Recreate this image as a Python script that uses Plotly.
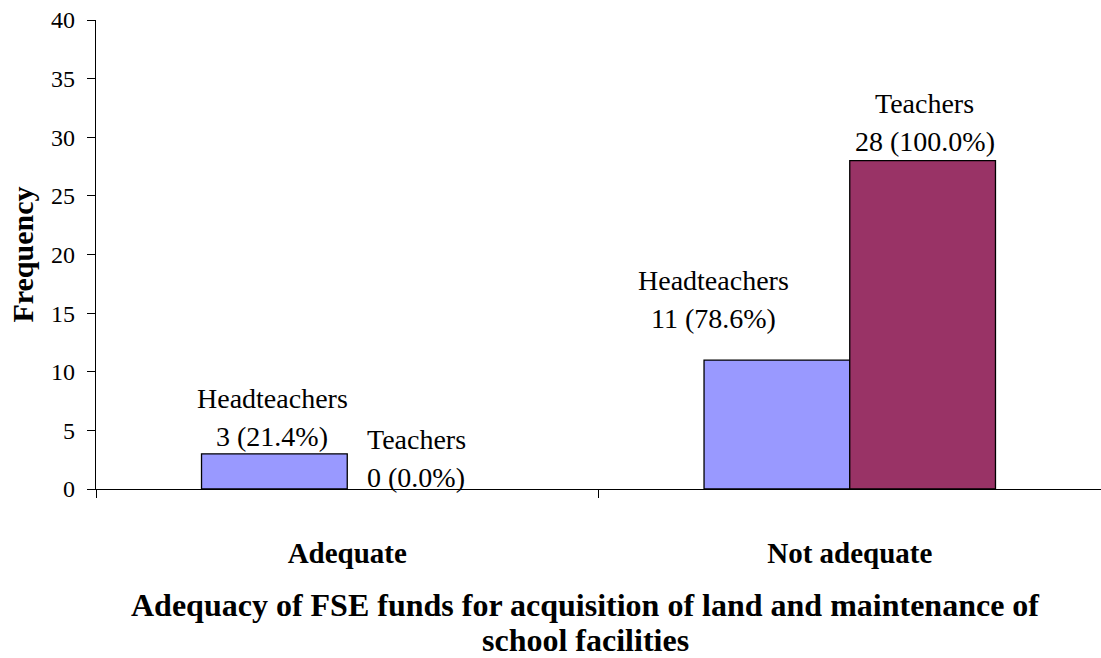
import plotly.graph_objects as go

categories = ["Adequate", "Not adequate"]
series_names = ["Headteachers", "Teachers"]
headteachers = [3, 11]
teachers = [0, 28]
headteachers_pct = [21.4, 78.6]
teachers_pct = [0.0, 100.0]
y_ticks = [0, 5, 10, 15, 20, 25, 30, 35, 40]
x_title_lines = ["Adequacy of FSE funds for acquisition of land and maintenance of",
                 "school facilities"]

colors = ["#9999FF", "#993366"]
FONT = "'Liberation Serif', 'Times New Roman', Times, serif"
BARGAP = 0.42

fig = go.Figure()
for name, vals, col in zip(series_names, [headteachers, teachers], colors):
    fig.add_trace(go.Bar(
        x=categories, y=vals, name=name,
        marker=dict(color=col, line=dict(color="black", width=[1.3 if v > 0 else 0 for v in vals])),
        showlegend=False,
    ))

# data labels (manually placed like Excel)
label_style = {  # (series, category index): (xshift px, yshift px of value line)
    (0, 0): (-2, 17), (1, 0): (-4, 12),
    (0, 1): (-63, 42), (1, 1): (2, 19),
}
half = (1 - BARGAP) / 4
for s, (name, vals, pcts) in enumerate(zip(series_names, [headteachers, teachers],
                                           [headteachers_pct, teachers_pct])):
    for i, (v, p) in enumerate(zip(vals, pcts)):
        xs, ys = label_style[(s, i)]
        xpos = i + (-half if s == 0 else half)
        fig.add_annotation(x=xpos, y=v, xref="x", yref="y", text=f"{v} ({p:.1f}%)",
                           showarrow=False, xshift=xs, yshift=ys, yanchor="middle",
                           font=dict(family=FONT, size=28, color="black"))
        fig.add_annotation(x=xpos, y=v, xref="x", yref="y", text=name,
                           showarrow=False, xshift=xs, yshift=ys + 38, yanchor="middle",
                           font=dict(family=FONT, size=28, color="black"))

for k, (line, dy) in enumerate(zip(x_title_lines, [-116, -151])):
    fig.add_annotation(
        x=0.4866, y=0, xref="paper", yref="paper", yshift=dy,
        text=f"<b>{line}</b>", showarrow=False, yanchor="middle", align="center",
        font=dict(family=FONT, size=32, color="black"))

fig.update_layout(
    width=1101, height=658,
    margin=dict(l=96, r=0, t=20, b=169),
    paper_bgcolor="white", plot_bgcolor="white",
    barmode="group", bargap=BARGAP, bargroupgap=0,
    font=dict(family=FONT, size=20, color="black"),
)
fig.update_xaxes(
    type="category", range=[-0.5, 1.5],
    showline=True, linecolor="black", linewidth=1.3,
    ticks="outside", tickson="boundaries", ticklen=8, tickcolor="black",
    tickfont=dict(family=FONT, size=29, color="black"),
    tickprefix="<b>", ticksuffix="</b>",
    ticklabelstandoff=38,
    showgrid=False, zeroline=False,
)
fig.update_yaxes(
    range=[0, 40], tickvals=y_ticks,
    showline=True, linecolor="black", linewidth=1.3,
    ticks="outside", ticklen=8, tickcolor="black",
    tickfont=dict(family=FONT, size=24, color="black"),
    ticklabelstandoff=7,
    showgrid=False, zeroline=False,
    title=dict(text="<b>Frequency</b>", font=dict(family=FONT, size=30, color="black"), standoff=8),
)

fig.write_html("out.html")
